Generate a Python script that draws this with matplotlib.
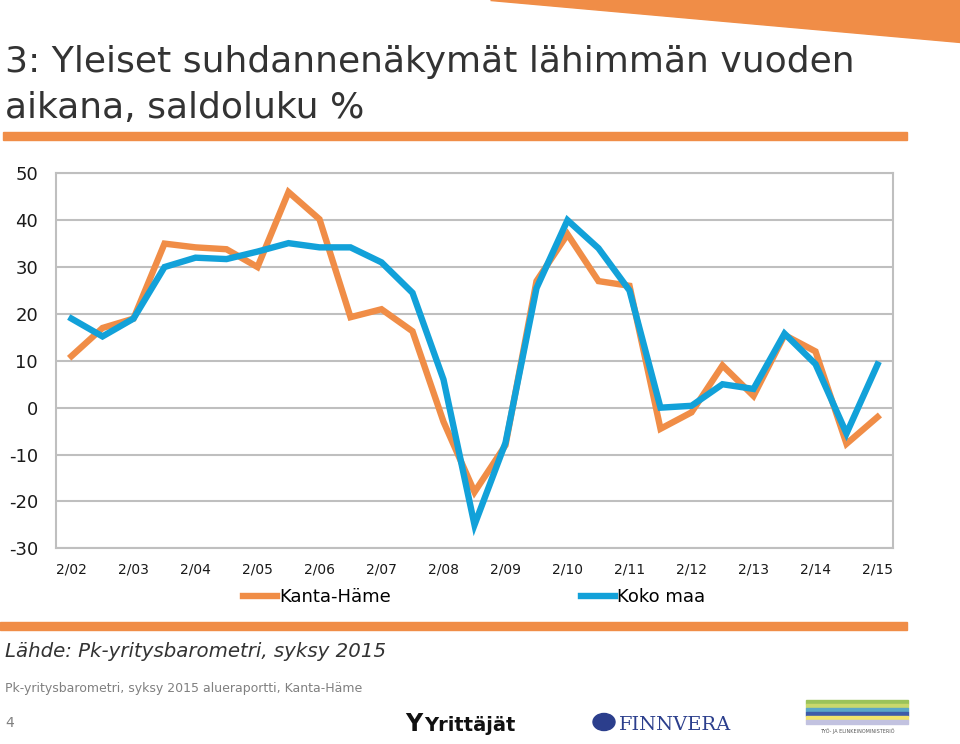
import matplotlib
matplotlib.use('Agg')
import matplotlib.pyplot as plt
from matplotlib.patches import Polygon, Rectangle, Circle

plt.rcParams['axes.unicode_minus'] = False

# data (saldoluku %, spring and autumn rounds 2002-2015)
x_labels = ["2/02", "2/03", "2/04", "2/05", "2/06", "2/07", "2/08",
            "2/09", "2/10", "2/11", "2/12", "2/13", "2/14", "2/15"]
kanta_hame = [11, 17, 19, 35, 34.2, 33.8, 30, 46, 40.2, 19.3, 21, 16.3, -3, -18,
              -8, 27, 37, 27, 26, -4.5, -1, 9, 2.5, 15.5, 12, -7.7, -2]
koko_maa = [19, 15.2, 19, 30, 32, 31.7, 33.3, 35.1, 34.2, 34.2, 31, 24.5, 6, -25,
            -7.5, 25.5, 40, 34, 25, 0, 0.4, 5, 4, 15.8, 9.3, -5.5, 9.2]
series_names = ["Kanta-Häme", "Koko maa"]

orange = '#F08D47'
blue = '#12A1D9'
grid_c = '#BFBFBF'

fig = plt.figure(figsize=(9.6, 7.44), dpi=100)

# decorations
fig.patches.append(Polygon([(490/960, 1), (1, 1), (1, 1 - 42/744)], closed=True,
                           transform=fig.transFigure, color=orange))
fig.patches.append(Rectangle((3/960, 1 - 140/744), 904/960, 8/744,
                             transform=fig.transFigure, color=orange))
fig.patches.append(Rectangle((0, 1 - 630/744), 907/960, 8/744,
                             transform=fig.transFigure, color=orange))

fig.text(5/960, 1 - 72/744, "3: Yleiset suhdannenäkymät lähimmän vuoden",
         fontsize=26, color='#333333', va='baseline', ha='left')
fig.text(5/960, 1 - 118/744, "aikana, saldoluku %",
         fontsize=26, color='#333333', va='baseline', ha='left')

ax = fig.add_axes([56/960, 1 - 548.3/744, (893 - 56)/960, (548.3 - 173.3)/744])
xs = list(range(len(kanta_hame)))
ax.plot(xs, kanta_hame, color=orange, lw=4.6, label=series_names[0], solid_joinstyle='miter')
ax.plot(xs, koko_maa, color=blue, lw=4.6, label=series_names[1], solid_joinstyle='miter')

ax.set_xlim(-0.5, len(kanta_hame) - 0.5)
ax.set_ylim(-30, 50)
ax.set_yticks(range(-30, 51, 10))
ax.set_xticks(range(0, len(kanta_hame), 2))
ax.set_xticklabels(x_labels)
ax.yaxis.grid(True, color=grid_c, lw=1.5)
ax.set_axisbelow(True)
for s in ax.spines.values():
    s.set_color(grid_c)
    s.set_linewidth(1.5)
ax.tick_params(axis='both', length=0)
ax.tick_params(axis='y', labelsize=13, pad=13, labelcolor='#1a1a1a')
ax.tick_params(axis='x', labelsize=10, pad=10, labelcolor='#1a1a1a')

fig.legend(loc='center', bbox_to_anchor=(474/960, 1 - 597/744), ncol=2,
           frameon=False, handlelength=1.9, handletextpad=0.1,
           columnspacing=10.5, prop={'size': 13})

fig.text(5/960, 1 - 657/744, "Lähde: Pk-yritysbarometri, syksy 2015",
         fontsize=14.2, style='italic', color='#333333', va='baseline')
fig.text(5/960, 1 - 692/744, "Pk-yritysbarometri, syksy 2015 alueraportti, Kanta-Häme",
         fontsize=9, color='#808080', va='baseline')
fig.text(5/960, 1 - 727/744, "4", fontsize=10, color='#808080', va='baseline')

# logos (approximated)
fig.text(405/960, 1 - 731/744, "Y", fontsize=17, weight='bold',
         color='#111111', va='baseline')
fig.text(424/960, 1 - 731/744, "Yrittäjät", fontsize=14, weight='bold',
         color='#111111', va='baseline')
fig.patches.append(Circle((604/960, 1 - 722/744), 11/960, transform=fig.transFigure,
                          color='#2B3E8C'))
fig.text(619/960, 1 - 730/744, "FINNVERA", fontsize=14, family='DejaVu Serif',
         color='#2B3E8C', va='baseline')
stripe_cols = ['#9BC35A', '#C9D86C', '#5AA6C8', '#3E5BA8', '#F1E36B', '#C2C2E0']
for k, c in enumerate(stripe_cols):
    fig.patches.append(Rectangle((806/960, 1 - (704 + k*4)/744), 102/960, 4/744,
                                 transform=fig.transFigure, color=c))
fig.text(857/960, 1 - 733/744, "TYÖ- JA ELINKEINOMINISTERIÖ", fontsize=3.5,
         color='#555555', ha='center', va='baseline')

fig.savefig('out.png', dpi=100)
